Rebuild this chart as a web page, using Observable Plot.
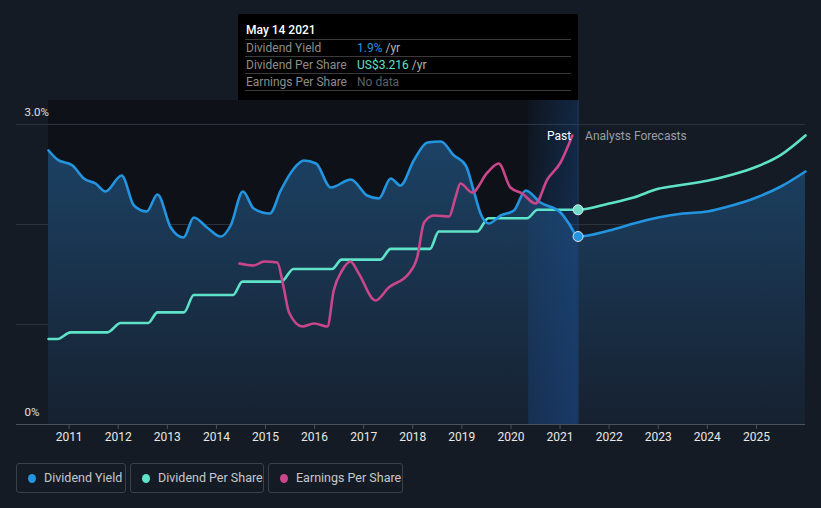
<!DOCTYPE html>
<html>
<head>
<meta charset="utf-8">
<script src="https://cdn.jsdelivr.net/npm/d3@7"></script>
<script src="https://cdn.jsdelivr.net/npm/@observablehq/plot@0.6"></script>
<style>
  html, body { margin: 0; padding: 0; background: #151b24; }
  body { width: 821px; height: 508px; overflow: hidden; position: relative; font-family: Roboto, "Noto Sans", sans-serif; font-weight: 400; }
  #chart { position: absolute; left: 0; top: 0; }
  .tip { position: absolute; left: 238px; top: 14px; width: 340px; height: 86px; background: #000; box-sizing: border-box; padding: 0 7px 0 7px; font-size: 12px; font-weight: 400; }
  .tip .title { height: 17px; padding-top: 8px; line-height: 17px; color: #fff; font-weight: 500; padding-left: 1px; border-bottom: 1px solid #3a3a3a; }
  .tip .row { height: 16px; line-height: 16px; padding-left: 1px; border-bottom: 1px solid #3a3a3a; display: flex; }
  .tip .lab { width: 111px; color: #8e8e8e; }
  .tip .unit { color: #b4b4b4; }
  .legend { position: absolute; top: 463px; left: 16px; height: 30px; }
  .lg { position: absolute; top: 0; height: 28px; border: 1px solid #3a404a; border-radius: 3px; color: #c4c8ce; font-size: 12.5px; font-weight: 400; line-height: 28px; }
  .lg .dot { position: absolute; left: 11px; top: 10px; width: 8px; height: 9px; border-radius: 50%; }
  .lg .txt { position: absolute; left: 27px; top: 0; white-space: nowrap; }
</style>
</head>
<body>
<div id="chart"></div>
<div class="tip">
  <div class="title">May 14 2021</div>
  <div class="row"><span class="lab">Dividend Yield</span><span style="color:#2394df">1.9%</span><span class="unit">&nbsp;/yr</span></div>
  <div class="row"><span class="lab">Dividend Per Share</span><span style="color:#5fe3c8">US$3.216</span><span class="unit">&nbsp;/yr</span></div>
  <div class="row"><span class="lab">Earnings Per Share</span><span style="color:#5c6168">No data</span></div>
</div>
<div class="legend" id="legend"></div>
<script>
// ---------- data ----------
const yieldT = [2010.58, 2010.76, 2011.07, 2011.30, 2011.54, 2011.74, 2012.07, 2012.32, 2012.58, 2012.80,
  2013.07, 2013.33, 2013.54, 2013.81, 2014.09, 2014.29, 2014.54, 2014.76, 2015.09, 2015.31,
  2015.58, 2015.78, 2016.03, 2016.33, 2016.74, 2017.07, 2017.31, 2017.55, 2017.75, 2018.02,
  2018.30, 2018.57, 2018.84, 2019.08, 2019.24, 2019.38, 2019.55, 2019.79, 2020.06, 2020.30,
  2020.60, 2021.01, 2021.18, 2021.367];
const yieldV = [2.74, 2.65, 2.59, 2.46, 2.41, 2.33, 2.49, 2.19, 2.13, 2.30,
  1.97, 1.87, 2.07, 1.97, 1.88, 1.99, 2.33, 2.16, 2.11, 2.34,
  2.56, 2.64, 2.61, 2.37, 2.45, 2.29, 2.26, 2.46, 2.39, 2.64,
  2.82, 2.83, 2.69, 2.59, 2.34, 2.11, 2.01, 2.09, 2.14, 2.34,
  2.22, 2.12, 2.01, 1.88];
const yieldFcT = [2021.367, 2022.0, 2022.5, 2023.0, 2023.5, 2024.0, 2024.5, 2025.0, 2025.5, 2026.0];
const yieldFcV = [1.88, 1.94, 2.01, 2.07, 2.11, 2.13, 2.19, 2.27, 2.38, 2.53];

// dividend per share, US$
const dpsT = [2010.58, 2010.76, 2011.03, 2011.78, 2012.05, 2012.61, 2012.80, 2013.34, 2013.54, 2014.34,
  2014.53, 2015.32, 2015.57, 2016.36, 2016.55, 2017.34, 2017.55, 2018.35, 2018.53, 2019.31,
  2019.54, 2020.33, 2020.54, 2021.367];
const dpsV = [1.28, 1.28, 1.38, 1.38, 1.52, 1.52, 1.68, 1.68, 1.94, 1.94,
  2.14, 2.14, 2.33, 2.33, 2.47, 2.47, 2.63, 2.63, 2.89, 2.89,
  3.09, 3.09, 3.216, 3.216];
const dpsFcT = [2021.367, 2022.0, 2022.5, 2023.0, 2023.5, 2024.0, 2024.5, 2025.0, 2025.5, 2026.0];
const dpsFcV = [3.216, 3.31, 3.40, 3.53, 3.59, 3.65, 3.74, 3.86, 4.04, 4.33];
const dpsToChart = 2.147 / 3.216; // DPS drawn on its own (normalised) scale

// earnings per share, normalised to chart units
const epsT = [2014.47, 2014.76, 2014.97, 2015.24, 2015.37, 2015.48, 2015.75, 2015.99, 2016.26, 2016.39,
  2016.56, 2016.73, 2016.90, 2017.24, 2017.51, 2017.92, 2018.09, 2018.23, 2018.43, 2018.74,
  2018.87, 2018.97, 2019.21, 2019.52, 2019.75, 2019.99, 2020.23, 2020.50, 2020.74, 2021.01, 2021.25];
const epsV = [1.61, 1.59, 1.63, 1.62, 1.37, 1.12, 0.98, 1.01, 0.98, 1.34,
  1.54, 1.63, 1.51, 1.24, 1.37, 1.51, 1.67, 2.02, 2.09, 2.08,
  2.27, 2.41, 2.32, 2.52, 2.61, 2.37, 2.31, 2.21, 2.45, 2.62, 2.89];

const yearTicks = d3.range(2011, 2026);
const yLabels = [{v: 3, label: "3.0%"}, {v: 0, label: "0%"}];
const gridVals = [1, 2, 3];
const hoverT = 2021.367;
const bandStart = 2020.36;
const tDomain = [2009.928, 2026.0];
const yDomain = [0, 3.24];

const legendItems = [
  {name: "Dividend Yield", color: "#2394df"},
  {name: "Dividend Per Share", color: "#5fe3c8"},
  {name: "Earnings Per Share", color: "#c9468b"}
];

// ---------- tables ----------
const yieldData = yieldT.map((t, i) => ({t, v: yieldV[i]}))
  .concat(yieldFcT.slice(1).map((t, i) => ({t, v: yieldFcV[i + 1]})));
const dpsData = dpsT.map((t, i) => ({t, v: dpsV[i] * dpsToChart}))
  .concat(dpsFcT.slice(1).map((t, i) => ({t, v: dpsFcV[i + 1] * dpsToChart})));
const epsData = epsT.map((t, i) => ({t, v: epsV[i]}));
const pastRegion = [{x1: yieldT[0], x2: hoverT, y1: yDomain[0], y2: yDomain[1]}];
const bandRegion = [{x1: bandStart, x2: hoverT, y1: yDomain[0], y2: yDomain[1]}];
const hoverDots = [
  {t: hoverT, v: yieldV[yieldV.length - 1], c: "#2394df"},
  {t: hoverT, v: dpsV[dpsV.length - 1] * dpsToChart, c: "#6fdcca"}
];
const pastLabel = [{t: hoverT, v: 2.88, text: "Past"}];
const fcLabel = [{t: hoverT, v: 2.88, text: "Analysts Forecasts"}];

const defs = () => {
  const s = d3.create("svg:defs");
  const a = s.append("linearGradient").attr("id", "areaGrad").attr("x1", 0).attr("y1", 0).attr("x2", 0).attr("y2", 1);
  a.append("stop").attr("offset", "0%").attr("stop-color", "#1c4265");
  a.append("stop").attr("offset", "100%").attr("stop-color", "#162130");
  const b = s.append("linearGradient").attr("id", "bandV").attr("x1", 0).attr("y1", 0).attr("x2", 0).attr("y2", 1);
  b.append("stop").attr("offset", "0%").attr("stop-color", "#1a4f96").attr("stop-opacity", 0.04);
  b.append("stop").attr("offset", "100%").attr("stop-color", "#1a4f96").attr("stop-opacity", 0.32);
  const h = s.append("linearGradient").attr("id", "bandH").attr("x1", 0).attr("y1", 0).attr("x2", 1).attr("y2", 0);
  h.append("stop").attr("offset", "0%").attr("stop-color", "#1a4f96").attr("stop-opacity", 0.0);
  h.append("stop").attr("offset", "100%").attr("stop-color", "#1a4f96").attr("stop-opacity", 0.32);
  return s.node();
};

const chart = Plot.plot({
  width: 821,
  height: 450,
  marginLeft: 16,
  marginRight: 16,
  marginTop: 100,
  marginBottom: 26,
  style: {background: "transparent", color: "#e6e6e6", fontFamily: "Roboto, 'Noto Sans', sans-serif", fontSize: "12px", fontWeight: 400},
  x: {domain: tDomain, axis: null},
  y: {domain: yDomain, axis: null},
  marks: [
    defs,
    Plot.rect(pastRegion, {x1: "x1", x2: "x2", y1: "y1", y2: "y2", fill: "#0e1218"}),
    Plot.ruleY(gridVals, {stroke: "#2c333d", strokeWidth: 1}),
    Plot.areaY(yieldData, {x: "t", y: "v", curve: "monotone-x", fill: "url(#areaGrad)"}),
    Plot.rect(bandRegion, {x1: "x1", x2: "x2", y1: "y1", y2: "y2", fill: "url(#bandV)"}),
    Plot.rect(bandRegion, {x1: "x1", x2: "x2", y1: "y1", y2: "y2", fill: "url(#bandH)"}),
    Plot.ruleX([hoverT], {y1: yDomain[0], y2: yDomain[1], stroke: "#1f3e68", strokeWidth: 1}),
    Plot.ruleY([0], {stroke: "#4b515b", strokeWidth: 1}),
    Plot.axisX(yearTicks, {tickSize: 5, tickPadding: 3, tickFormat: d => String(d), stroke: "#4b515b", fill: "#e8e8e8", fontSize: 12}),
    Plot.line(dpsData, {x: "t", y: "v", curve: "monotone-x", stroke: "#5fe3c8", strokeWidth: 2.6}),
    Plot.line(yieldData, {x: "t", y: "v", curve: "monotone-x", stroke: "#2394df", strokeWidth: 2.6}),
    Plot.line(epsData, {x: "t", y: "v", curve: "monotone-x", stroke: "#c9468b", strokeWidth: 2.6}),
    Plot.dot(hoverDots, {x: "t", y: "v", r: 5, fill: "c", stroke: "#e3eaf2", strokeWidth: 1}),
    Plot.text(pastLabel, {x: "t", y: "v", text: "text", textAnchor: "end", dx: -7, fill: "#ffffff", fontSize: 12}),
    Plot.text(fcLabel, {x: "t", y: "v", text: "text", textAnchor: "start", dx: 7, fill: "#9a9ea5", fontSize: 12}),
    Plot.text(yLabels, {y: "v", text: "label", frameAnchor: "left", textAnchor: "start", dx: 8, dy: -12, fill: "#e0e0e0", fontSize: 11.5})
  ]
});
document.getElementById("chart").appendChild(chart);

// legend
const lgLeft = [0, 114, 252];
const lgWidth = [108, 132, 133];
const lg = document.getElementById("legend");
legendItems.forEach((d, i) => {
  const box = document.createElement("div");
  box.className = "lg";
  box.style.left = lgLeft[i] + "px";
  box.style.width = lgWidth[i] + "px";
  box.innerHTML = `<span class="dot" style="background:${d.color}"></span><span class="txt">${d.name}</span>`;
  lg.appendChild(box);
});
</script>
</body>
</html>
